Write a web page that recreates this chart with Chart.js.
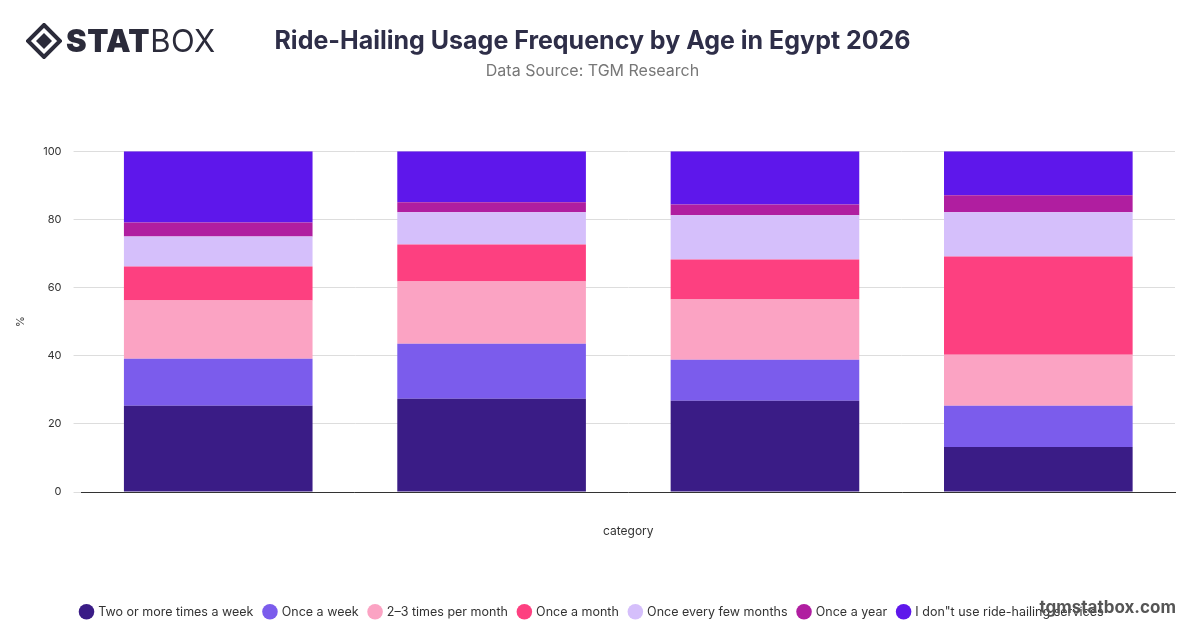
<!DOCTYPE html>
<html><head><meta charset="utf-8">
<script src="https://cdn.jsdelivr.net/npm/chart.js@4"></script>
<style>
body{margin:0;width:1200px;height:628px;background:#fff;font-family:Inter,"Noto Sans",sans-serif;overflow:hidden}
#wrap{position:absolute;left:0;top:0;width:1200px;height:628px}
#logo{position:absolute;left:26px;top:22px;font-size:31px;color:#2b2b3a;letter-spacing:0.5px;display:flex;align-items:center}
#logo b{font-weight:900}
#logo span{font-weight:400}
#wm{position:absolute;right:24px;top:597px;font-size:17px;font-weight:700;color:#555}
</style></head><body>
<div id="wrap"><canvas id="c" width="1200" height="628"></canvas></div>
<div id="logo"><svg width="36" height="36" viewBox="0 0 36 36" style="margin-right:4px"><path d="M18 2 L34 18 L18 34 L2 18 Z" fill="none" stroke="#2b2b3a" stroke-width="4"/><path d="M18 10 L26 18 L18 26 L10 18 Z" fill="#2b2b3a"/></svg><b>STAT</b><span>BOX</span></div>
<div id="wm">tgmstatbox.com</div>
<script>
const categories = ['18-24', '25-34', '35-44', '45+'];
const seriesNames = ['Two or more times a week', 'Once a week', '2–3 times per month', 'Once a month', 'Once every few months', 'Once a year', 'I don"t use ride-hailing services'];
const twoOrMore = [25.3, 27.4, 26.8, 13.2];
const onceWeek = [13.8, 16.1, 12.0, 12.1];
const twoThreeMonth = [17.1, 18.3, 17.7, 15.0];
const onceMonth = [10.0, 10.8, 11.7, 28.8];
const fewMonths = [8.8, 9.5, 13.0, 13.0];
const onceYear = [4.1, 2.9, 3.2, 5.0];
const dontUse = [20.9, 15.0, 15.6, 12.9];
const yTicks = [0, 20, 40, 60, 80, 100];
const colors = ['#3a1c86', '#7b5cec', '#fba3c3', '#fd4080', '#d5bffb', '#b01ea0', '#5e17eb'];
const series = [twoOrMore, onceWeek, twoThreeMonth, onceMonth, fewMonths, onceYear, dontUse];

new Chart(document.getElementById('c'), {
  type: 'bar',
  data: {
    labels: categories,
    datasets: series.map((d, i) => ({label: seriesNames[i], data: d, backgroundColor: colors[i], barPercentage: 0.69, categoryPercentage: 1}))
  },
  options: {
    responsive: false, animation: false,
    layout: {padding: {left: 10, right: 25, top: 20, bottom: 0}},
    plugins: {
      title: {display: true, text: 'Ride-Hailing Usage Frequency by Age in Egypt 2026', color: '#2e2e48', font: {size: 25, weight: 'bold', family: 'Inter'}, padding: {top: 6, bottom: 6}},
      subtitle: {display: true, text: 'Data Source: TGM Research', color: '#777', font: {size: 16, family: 'Inter'}, padding: {bottom: 70}},
      legend: {position: 'bottom', align: 'start', labels: {usePointStyle: true, pointStyle: 'circle', boxWidth: 11, boxHeight: 11, padding: 11, color: '#333', font: {size: 12.5, family: 'Inter'}}},
      tooltip: {enabled: false}
    },
    scales: {
      x: {stacked: true, grid: {display: false}, border: {color: '#333'}, ticks: {display: false},
          title: {display: true, text: 'category', color: '#333', font: {size: 12, family: 'Inter'}, padding: {top: 24, bottom: 56}}},
      y: {stacked: true, min: 0, max: 100, afterBuildTicks: ax => { ax.ticks = yTicks.map(v => ({value: v})); },
          grid: {color: '#ddd'}, border: {display: false}, ticks: {color: '#333', font: {size: 11, family: 'Inter'}, padding: 12},
          title: {display: true, text: '%', color: '#333', font: {size: 11, family: 'Inter'}}}
    }
  },
  plugins: [{id: 'legendShift', afterLayout(chart) { chart.legend.left = 70; }}]
});
</script></body></html>
